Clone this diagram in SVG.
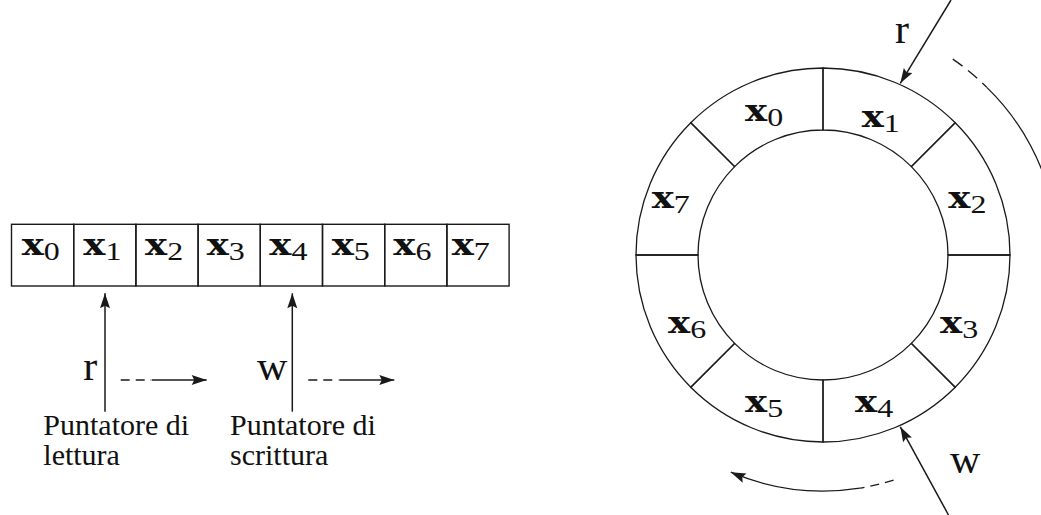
<svg xmlns="http://www.w3.org/2000/svg" width="1041" height="515" viewBox="0 0 1041 515">
<style>
.cell{fill:none;stroke:#1a1a1a;stroke-width:1.4}
.seg{fill:none;stroke:#1a1a1a;stroke-width:1.3}
.xv{font-family:"DejaVu Serif","Liberation Serif",serif;font-weight:bold;font-size:29px;fill:#111}
.sb{font-family:"Liberation Serif",serif;font-size:25px;fill:#111;font-weight:normal}
.lbl{font-family:"Liberation Serif",serif;font-size:30px;fill:#111}
.ptr{font-family:"Liberation Serif",serif;font-size:42px;fill:#111}
.ln{fill:none;stroke:#1a1a1a;stroke-width:1.5}
.dsh{fill:none;stroke:#1a1a1a;stroke-width:1.5;stroke-dasharray:9 6}
</style>
<defs>
<marker id="ah" markerUnits="userSpaceOnUse" markerWidth="16" markerHeight="11" refX="15" refY="5" orient="auto" overflow="visible">
<path d="M0,0 L15,5 L0,10 L2.5,5 Z" fill="#1a1a1a"/>
</marker>
</defs>
<!-- linear buffer -->
<g id="array">
<g id="a0"><rect class="cell" x="11.5" y="224.3" width="62.2" height="61.7"/><text class="xv" transform="translate(21.7,255) scale(1.28,1)">x<tspan class="sb" dy="5">0</tspan></text></g>
<g id="a1"><rect class="cell" x="73.7" y="224.3" width="62.2" height="61.7"/><text class="xv" transform="translate(83.3,255) scale(1.28,1)">x<tspan class="sb" dy="5">1</tspan></text></g>
<g id="a2"><rect class="cell" x="135.9" y="224.3" width="62.2" height="61.7"/><text class="xv" transform="translate(145,255) scale(1.28,1)">x<tspan class="sb" dy="5">2</tspan></text></g>
<g id="a3"><rect class="cell" x="198.1" y="224.3" width="62.2" height="61.7"/><text class="xv" transform="translate(206.7,255) scale(1.28,1)">x<tspan class="sb" dy="5">3</tspan></text></g>
<g id="a4"><rect class="cell" x="260.3" y="224.3" width="62.2" height="61.7"/><text class="xv" transform="translate(269.3,255) scale(1.28,1)">x<tspan class="sb" dy="5">4</tspan></text></g>
<g id="a5"><rect class="cell" x="322.5" y="224.3" width="62.2" height="61.7"/><text class="xv" transform="translate(331.7,255) scale(1.28,1)">x<tspan class="sb" dy="5">5</tspan></text></g>
<g id="a6"><rect class="cell" x="384.7" y="224.3" width="62.2" height="61.7"/><text class="xv" transform="translate(393.3,255) scale(1.28,1)">x<tspan class="sb" dy="5">6</tspan></text></g>
<g id="a7"><rect class="cell" x="446.9" y="224.3" width="62.2" height="61.7"/><text class="xv" transform="translate(451.7,255) scale(1.28,1)">x<tspan class="sb" dy="5">7</tspan></text></g>
</g>
<g id="array-labels">
<text class="ptr" x="83.3" y="380">r</text>
<text class="ptr" x="257" y="380">w</text>
<text class="lbl" x="43.3" y="435">Puntatore di</text>
<text class="lbl" x="43.3" y="465">lettura</text>
<text class="lbl" x="230" y="435">Puntatore di</text>
<text class="lbl" x="230" y="465">scrittura</text>
</g>
<!-- ring buffer -->
<g id="ring">
<g id="r0"><path class="seg" d="M690.77,122.77 A187,187 0 0 1 823,68 L823,130 A125,125 0 0 0 734.61,166.61 Z"/><text class="xv" transform="translate(745,121) scale(1.28,1)">x<tspan class="sb" dy="5">0</tspan></text></g>
<g id="r1"><path class="seg" d="M823,68 A187,187 0 0 1 955.23,122.77 L911.39,166.61 A125,125 0 0 0 823,130 Z"/><text class="xv" transform="translate(861.7,126.5) scale(1.28,1)">x<tspan class="sb" dy="5">1</tspan></text></g>
<g id="r2"><path class="seg" d="M955.23,122.77 A187,187 0 0 1 1010,255 L948,255 A125,125 0 0 0 911.39,166.61 Z"/><text class="xv" transform="translate(948.3,208.3) scale(1.28,1)">x<tspan class="sb" dy="5">2</tspan></text></g>
<g id="r3"><path class="seg" d="M1010,255 A187,187 0 0 1 955.23,387.23 L911.39,343.39 A125,125 0 0 0 948,255 Z"/><text class="xv" transform="translate(940,333) scale(1.28,1)">x<tspan class="sb" dy="5">3</tspan></text></g>
<g id="r4"><path class="seg" d="M955.23,387.23 A187,187 0 0 1 823,442 L823,380 A125,125 0 0 0 911.39,343.39 Z"/><text class="xv" transform="translate(855,411.7) scale(1.28,1)">x<tspan class="sb" dy="5">4</tspan></text></g>
<g id="r5"><path class="seg" d="M823,442 A187,187 0 0 1 690.77,387.23 L734.61,343.39 A125,125 0 0 0 823,380 Z"/><text class="xv" transform="translate(745,411.7) scale(1.28,1)">x<tspan class="sb" dy="5">5</tspan></text></g>
<g id="r6"><path class="seg" d="M690.77,387.23 A187,187 0 0 1 636,255 L698,255 A125,125 0 0 0 734.61,343.39 Z"/><text class="xv" transform="translate(668,333.3) scale(1.28,1)">x<tspan class="sb" dy="5">6</tspan></text></g>
<g id="r7"><path class="seg" d="M636,255 A187,187 0 0 1 690.77,122.77 L734.61,166.61 A125,125 0 0 0 698,255 Z"/><text class="xv" transform="translate(651.7,208) scale(1.28,1)">x<tspan class="sb" dy="5">7</tspan></text></g>
</g>
<g id="ring-labels">
<text class="ptr" x="895" y="43">r</text>
<text class="ptr" x="950" y="473">w</text>
</g>
<g id="connectors">
<line class="ln" x1="105" y1="411.7" x2="105" y2="293.3" marker-end="url(#ah)"/>
<line class="ln" x1="292.3" y1="411.7" x2="292.3" y2="293.3" marker-end="url(#ah)"/>
<path class="dsh" d="M120.7,380 H151"/>
<line class="ln" x1="151.7" y1="380" x2="206.7" y2="380" marker-end="url(#ah)"/>
<path class="dsh" d="M308.3,380 H338.6"/>
<line class="ln" x1="339.3" y1="380" x2="394.3" y2="380" marker-end="url(#ah)"/>
<line class="ln" x1="951" y1="0" x2="900.3" y2="83.3" marker-end="url(#ah)"/>
<line class="ln" x1="948.5" y1="515" x2="900.3" y2="426.8" marker-end="url(#ah)"/>
<path class="ln" style="stroke-dasharray:12 7 12 7;stroke-width:1.3" d="M952.8,59.1 A235,235 0 0 1 986.8,87.4"/>
<path class="ln" style="stroke-width:1.3" d="M986.8,87.4 A235,235 0 0 1 1054.4,214.2"/>
<path class="ln" style="stroke-dasharray:9 6;stroke-width:1.3" d="M893.6,480.2 A236,236 0 0 1 859.9,488.1"/>
<path class="ln" style="stroke-width:1.3" d="M859.9,488.1 A236,236 0 0 1 730.8,472.2" marker-end="url(#ah)"/>
</g>
</svg>
